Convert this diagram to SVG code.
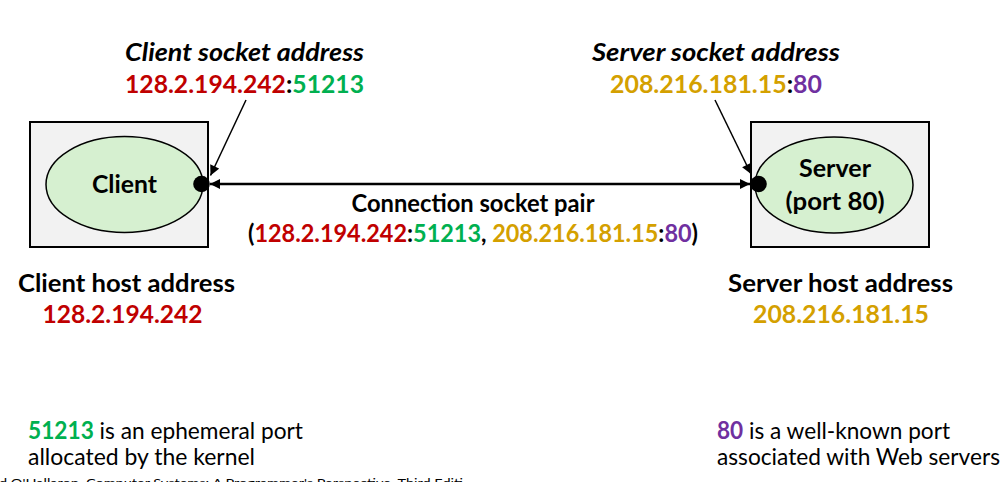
<svg xmlns="http://www.w3.org/2000/svg" width="1007" height="482" viewBox="0 0 1007 482">
<style>
text{font-family:Lato,"Open Sans","Liberation Sans",sans-serif;font-size:24px;fill:#000}
.b{font-weight:700}
.bi{font-weight:700;font-style:italic}
.red{fill:#C00000}
.grn{fill:#00B050}
.gld{fill:#D4A000}
.pur{fill:#7030A0}
.box{fill:#F2F2F2;stroke:#000;stroke-width:2}
.ell{fill:#D6F0D0;stroke:#000;stroke-width:1.5}
.c{text-anchor:middle}
</style>
<defs>
<marker id="ah" viewBox="0 0 10 10" refX="10" refY="5" markerWidth="10" markerHeight="10" markerUnits="userSpaceOnUse" orient="auto-start-reverse">
<path d="M0,0 L10,5 L0,10 z" fill="#000"/>
</marker>
<marker id="ah2" viewBox="0 0 10 10" refX="10" refY="5" markerWidth="12" markerHeight="10" markerUnits="userSpaceOnUse" orient="auto">
<path d="M0,0 L10,5 L0,10 z" fill="#000"/>
</marker>
</defs>
<rect width="1007" height="482" fill="#fff"/>

<g id="client">
<rect class="box" x="30" y="122" width="178" height="125"/>
<ellipse class="ell" cx="124.5" cy="184.5" rx="78.5" ry="48"/>
<text class="b c" x="124.5" y="193" textLength="65" lengthAdjust="spacingAndGlyphs">Client</text>
<circle cx="201.5" cy="184" r="8.3" fill="#000"/>
</g>

<g id="server">
<rect class="box" x="751" y="122" width="178" height="125"/>
<ellipse class="ell" cx="834" cy="185" rx="79" ry="48"/>
<text class="b c" x="835" y="177" textLength="72" lengthAdjust="spacingAndGlyphs">Server</text>
<text class="b c" x="835" y="210" textLength="99" lengthAdjust="spacingAndGlyphs">(port 80)</text>
<circle cx="758.5" cy="184" r="8.3" fill="#000"/>
</g>

<g id="client-socket-label">
<text class="bi c" x="244.5" y="61" textLength="239" lengthAdjust="spacingAndGlyphs">Client socket address</text>
<text class="b c" x="244.5" y="93" textLength="239" lengthAdjust="spacingAndGlyphs"><tspan class="red">128.2.194.242</tspan>:<tspan class="grn">51213</tspan></text>
</g>

<g id="server-socket-label">
<text class="bi c" x="716" y="61" textLength="248" lengthAdjust="spacingAndGlyphs">Server socket address</text>
<text class="b c" x="716" y="93" textLength="212" lengthAdjust="spacingAndGlyphs"><tspan class="gld">208.216.181.15</tspan>:<tspan class="pur">80</tspan></text>
</g>

<g id="connection-label">
<text class="b c" x="473" y="212" textLength="243" lengthAdjust="spacingAndGlyphs">Connection socket pair</text>
<text class="b c" x="473" y="242" textLength="450" lengthAdjust="spacingAndGlyphs">(<tspan class="red">128.2.194.242</tspan>:<tspan class="grn">51213</tspan>, <tspan class="gld">208.216.181.15</tspan>:<tspan class="pur">80</tspan>)</text>
</g>

<g id="client-host">
<text class="b" x="18" y="292" textLength="217" lengthAdjust="spacingAndGlyphs">Client host address</text>
<text class="b red" x="42.5" y="323" textLength="160" lengthAdjust="spacingAndGlyphs">128.2.194.242</text>
</g>

<g id="server-host">
<text class="b" x="728" y="292" textLength="225" lengthAdjust="spacingAndGlyphs">Server host address</text>
<text class="b gld" x="753" y="323" textLength="176" lengthAdjust="spacingAndGlyphs">208.216.181.15</text>
</g>

<g id="client-note">
<text x="28" y="439" textLength="275" lengthAdjust="spacingAndGlyphs"><tspan class="b grn">51213</tspan> is an ephemeral port</text>
<text x="28" y="465" textLength="227" lengthAdjust="spacingAndGlyphs">allocated by the kernel</text>
</g>

<g id="server-note">
<text x="717" y="439" textLength="233" lengthAdjust="spacingAndGlyphs"><tspan class="b pur">80</tspan> is a well-known port</text>
<text x="717" y="465" textLength="283" lengthAdjust="spacingAndGlyphs">associated with Web servers</text>
</g>

<g id="connectors" stroke="#000" fill="none">
<line x1="210" y1="184" x2="750" y2="184" stroke-width="2.5" marker-start="url(#ah)" marker-end="url(#ah)"/>
<line x1="246" y1="100" x2="210.5" y2="175.5" stroke-width="1.5" marker-end="url(#ah2)"/>
<line x1="715" y1="100" x2="751" y2="174" stroke-width="1.5" marker-end="url(#ah2)"/>
</g>

<g id="footer">
<text x="-1" y="487" style="font-size:12px" textLength="464" lengthAdjust="spacingAndGlyphs">d O'Hallaron, Computer Systems: A Programmer's Perspective, Third Editi</text>
</g>
</svg>
